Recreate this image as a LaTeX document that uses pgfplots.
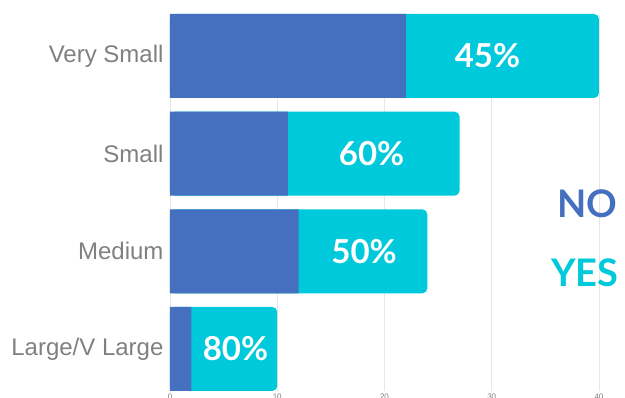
\documentclass[border=0pt]{standalone}
\usepackage{pgfplots}
\pgfplotsset{compat=1.18}
\usepackage{fontspec}
\setmainfont{Liberation Sans}
\newfontfamily\lato{Lato}
\definecolor{noblue}{HTML}{4570BF}
\definecolor{yescyan}{HTML}{00C9DB}
\definecolor{labgray}{HTML}{808080}
\definecolor{gridgray}{HTML}{E6E6E6}
\begin{document}
\begin{tikzpicture}
\begin{axis}[
  at={(0,0)}, anchor=south west,
  scale only axis,
  width=429pt, height=377pt,
  xmin=0, xmax=40,
  ymin=-0.43, ymax=3.43,
  xbar, bar width=0.86,
  bar shift=0pt,
  axis line style={draw=none},
  xmajorgrids, major grid style={gridgray, line width=0.6pt},
  xtick={0,10,20,30,40},
  ytick={0,1,2,3},
  yticklabels={Large/V Large, Medium, Small, Very Small},
  yticklabel style={font=\fontsize{24}{28}\selectfont, text=labgray, xshift=-3pt},
  xticklabel style={font=\fontsize{8}{9}\selectfont, text=labgray, yshift=1pt},
  /pgf/number format/assume math mode=true,
  major tick length=0pt,
  clip=false,
]
% total (NO+YES), rounded right end
\addplot[fill=yescyan, draw=none, rounded corners=5pt] coordinates {(10,0) (24,1) (27,2) (40,3)};
% NO
\addplot[fill=noblue, draw=none] coordinates {(2,0) (12,1) (11,2) (22,3)};
\node[text=white, font=\lato\bfseries\fontsize{33}{36}\selectfont] at (axis cs:29.6,3) {45\%};
\node[text=white, font=\lato\bfseries\fontsize{33}{36}\selectfont] at (axis cs:18.8,2) {60\%};
\node[text=white, font=\lato\bfseries\fontsize{33}{36}\selectfont] at (axis cs:18.1,1) {50\%};
\node[text=white, font=\lato\bfseries\fontsize{33}{36}\selectfont] at (axis cs:6.1,0) {80\%};
\end{axis}
\node[text=noblue, font=\lato\bfseries\fontsize{38}{40}\selectfont] at (417pt,187pt) {NO};
\node[text=yescyan, font=\lato\bfseries\fontsize{38}{40}\selectfont] at (415pt,118pt) {YES};
\pgfresetboundingbox
\path[use as bounding box] (-170pt,-7pt) rectangle (455pt,391pt);
\end{tikzpicture}
\end{document}
